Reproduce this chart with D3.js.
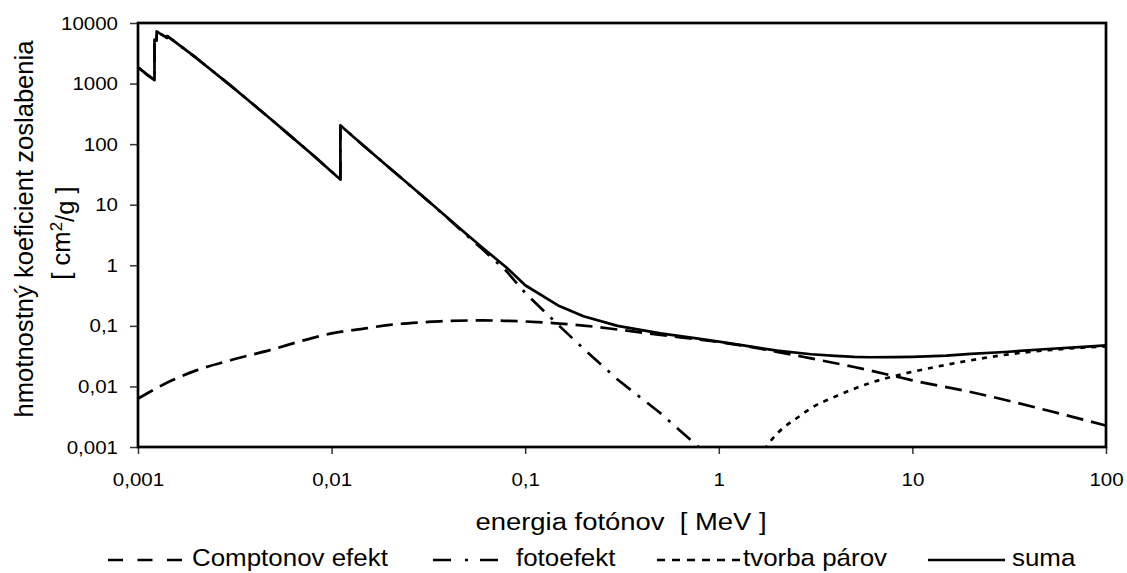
<!DOCTYPE html>
<html>
<head>
<meta charset="utf-8">
<script src="https://cdn.jsdelivr.net/npm/d3@7"></script>
<style>
  body { margin: 0; background: #fff; }
  svg { display: block; font-family: "Liberation Sans", Arial, sans-serif; }
</style>
</head>
<body>
<svg id="chart"></svg>
<script>
// tick values / labels
var xTicks = [0.001, 0.01, 0.1, 1, 10, 100];
var xTickLabels = ["0,001", "0,01", "0,1", "1", "10", "100"];
var yTicks = [0.001, 0.01, 0.1, 1, 10, 100, 1000, 10000];
var yTickLabels = ["0,001", "0,01", "0,1", "1", "10", "100", "1000", "10000"];

// Comptonov efekt
var comptonE = [0.001, 0.0015, 0.002, 0.003, 0.005, 0.007, 0.01, 0.015, 0.02, 0.03, 0.04, 0.06, 0.08, 0.1, 0.15, 0.2, 0.3, 0.5, 0.8, 1, 2, 3, 5, 8, 10, 20, 50, 100];
var comptonVal = [0.0063, 0.0126, 0.0184, 0.027, 0.0413, 0.0565, 0.075, 0.091, 0.104, 0.115, 0.121, 0.123, 0.121, 0.118, 0.109, 0.101, 0.087, 0.071, 0.059, 0.054, 0.0373, 0.029, 0.0209, 0.0149, 0.0126, 0.0081, 0.0040, 0.00226];

// fotoefekt (with absorption edges)
var photoE = [0.001, 0.0011, 0.0012167, 0.0012167, 0.001248, 0.001248, 0.0013, 0.0014143, 0.0014143, 0.0015, 0.002, 0.003, 0.004, 0.005, 0.006, 0.008, 0.01, 0.011103, 0.011103, 0.015, 0.02, 0.03, 0.04, 0.05, 0.06, 0.08, 0.1, 0.15, 0.2, 0.3, 0.5, 0.8];
var photoVal = [1850, 1450, 1140, 5300, 5100, 7250, 6700, 5700, 6100, 5300, 2650, 935, 435, 238, 145, 66, 35, 26, 203, 88, 40, 13.2, 5.9, 3.1, 1.85, 0.8, 0.35, 0.1, 0.042, 0.013, 0.0036, 0.00095];

// tvorba párov
var pairE = [1.72, 1.76, 1.85, 2, 2.64, 3, 4, 6, 8.7, 13, 20, 28.5, 40, 63, 100];
var pairVal = [0.0009, 0.001, 0.00125, 0.00166, 0.0033, 0.0044, 0.0068, 0.0113, 0.0157, 0.0208, 0.027, 0.0325, 0.037, 0.042, 0.0457];

// suma
var sumE = [0.001, 0.0011, 0.0012167, 0.0012167, 0.001248, 0.001248, 0.0013, 0.0014143, 0.0014143, 0.0015, 0.002, 0.003, 0.004, 0.005, 0.006, 0.008, 0.01, 0.011103, 0.011103, 0.015, 0.02, 0.03, 0.04, 0.05, 0.06, 0.08, 0.1, 0.15, 0.2, 0.3, 0.5, 0.8, 1, 1.5, 2, 3, 4, 5, 6, 8, 10, 15, 20, 30, 50, 80, 100];
var sumVal = [1850, 1450, 1140, 5300, 5100, 7250, 6700, 5700, 6100, 5300, 2650, 935, 435, 238, 145, 66, 35.1, 26.1, 203, 88.1, 40.1, 13.3, 6.0, 3.22, 1.97, 0.92, 0.468, 0.212, 0.144, 0.1, 0.075, 0.061, 0.055, 0.045, 0.039, 0.034, 0.032, 0.0307, 0.0303, 0.0304, 0.0308, 0.0322, 0.0345, 0.037, 0.0415, 0.0455, 0.0475];

var legendLabels = ["Comptonov efekt", "fotoefekt", "tvorba párov", "suma"];

var W = 1127, H = 573;
var margin = {top: 23, right: 21, bottom: 126, left: 138},
    width = W - margin.left - margin.right,
    height = H - margin.top - margin.bottom;

var svg = d3.select("#chart").attr("width", W).attr("height", H);
var g = svg.append("g").attr("transform", "translate(" + margin.left + "," + margin.top + ")");

var x = d3.scaleLog().domain([0.001, 100]).range([0, width]);
var y = d3.scaleLog().domain([0.001, 10000]).range([height, 0]);

g.append("clipPath").attr("id", "plotclip")
  .append("rect").attr("width", width).attr("height", height);

// axes (ticks + labels)
var yAxis = g.append("g")
  .call(d3.axisLeft(y).tickValues(yTicks).tickFormat(function(d, i) { return yTickLabels[i]; })
    .tickSize(8).tickSizeOuter(0).tickPadding(10.5));
var xAxis = g.append("g")
  .attr("transform", "translate(0," + height + ")")
  .call(d3.axisBottom(x).tickValues(xTicks).tickFormat(function(d, i) { return xTickLabels[i]; })
    .tickSize(7).tickSizeOuter(0).tickPadding(19));

[yAxis, xAxis].forEach(function(ax) {
  ax.select(".domain").remove();
  ax.selectAll(".tick line").attr("stroke", "#333").attr("stroke-width", 1.5);
  ax.selectAll(".tick text")
    .attr("fill", "#000")
    .style("font-family", "'Liberation Sans', Arial, sans-serif")
    .style("font-size", "19px")
    .attr("transform", "scale(1.08,1)");
});

// series
function makeData(es, vs) { return es.map(function(e, i) { return [e, vs[i]]; }); }
var series = [
  {data: makeData(comptonE, comptonVal), dash: "17,8", curve: d3.curveMonotoneX},
  {data: makeData(photoE, photoVal), dash: "18,9,3,9", curve: d3.curveLinear},
  {data: makeData(pairE, pairVal), dash: "5,6", curve: d3.curveMonotoneX},
  {data: makeData(sumE, sumVal), dash: null, curve: d3.curveLinear}
];

var plot = g.append("g").attr("clip-path", "url(#plotclip)");
series.forEach(function(s) {
  var line = d3.line()
    .x(function(d) { return x(d[0]); })
    .y(function(d) { return y(d[1]); })
    .curve(s.curve);
  plot.append("path")
    .datum(s.data)
    .attr("d", line)
    .attr("fill", "none")
    .attr("stroke", "#000")
    .attr("stroke-width", 2.7)
    .attr("stroke-linejoin", "round")
    .attr("stroke-dasharray", s.dash);
});

// frame
g.append("rect")
  .attr("width", width).attr("height", height)
  .attr("fill", "none").attr("stroke", "#000").attr("stroke-width", 2.7);

// helper for horizontally stretched text
function stext(parent, tx, ty, str, size, anchor, sx) {
  return parent.append("text")
    .attr("transform", "translate(" + tx + "," + ty + ") scale(" + sx + ",1)")
    .attr("text-anchor", anchor)
    .style("font-size", size + "px")
    .style("white-space", "pre")
    .attr("fill", "#000")
    .text(str);
}

// x axis title
stext(svg, 621, 530, "energia fotónov  [ MeV ]", 24.5, "middle", 1.12);

// y axis title (two lines)
svg.append("text")
  .attr("transform", "translate(33,229) rotate(-90)")
  .attr("text-anchor", "middle")
  .style("font-size", "25.6px")
  .text("hmotnostný koeficient zoslabenia");
var t2 = svg.append("text")
  .attr("transform", "translate(70,233) rotate(-90)")
  .attr("text-anchor", "middle")
  .style("font-size", "25.6px")
  .style("white-space", "pre");
t2.append("tspan").text("[ cm");
t2.append("tspan").attr("dy", "-0.45em").style("font-size", "17px").text("2");
t2.append("tspan").attr("dy", "0.45em").text("/g ]");

// legend
var legendItems = [
  {x1: 108, x2: 182, tx: 192, dash: "15,14.5"},
  {x1: 433, x2: 510, tx: 516, dash: "18,14,3,12"},
  {x1: 657, x2: 740, tx: 743, dash: "8,7"},
  {x1: 928, x2: 1005, tx: 1012, dash: null}
];
var legend = svg.append("g");
legendItems.forEach(function(it, i) {
  legend.append("line")
    .attr("x1", it.x1).attr("x2", it.x2)
    .attr("y1", 560).attr("y2", 560)
    .attr("stroke", "#000").attr("stroke-width", 2.7)
    .attr("stroke-dasharray", it.dash);
  stext(legend, it.tx, 566, legendLabels[i], 24, "start", 1.08);
});
</script>
</body>
</html>
